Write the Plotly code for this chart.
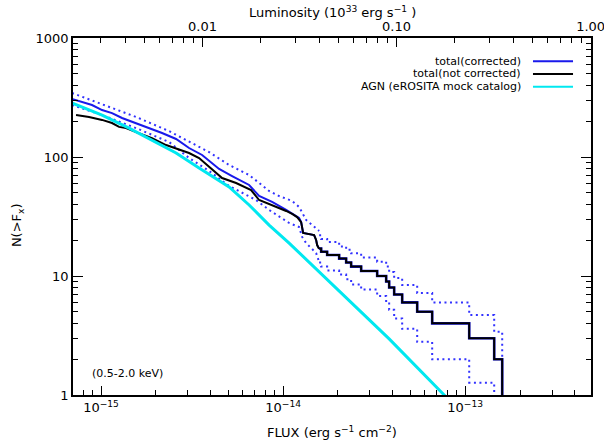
import plotly.graph_objects as go

# ---------------- data ----------------
# AGN model (eROSITA mock catalog), smooth curve
agn_flux = [6.93e-16, 1.013e-15, 1.425e-15, 1.906e-15, 2.583e-15, 3.455e-15, 5.05e-15,
            6.505e-15, 8.377e-15, 1.079e-14, 2.031e-14, 3.823e-14, 7.667e-14, 9.27e-14]
agn_n = [284, 225, 175, 139, 108, 80.8, 56, 39.5, 26.8, 18.9, 7.48, 2.96, 1.0, 0.75]

# total (not corrected), faint part
black_flux = [7.29e-16, 8.59e-16, 1.013e-15, 1.149e-15, 1.256e-15, 1.372e-15, 1.557e-15,
              1.906e-15, 2.276e-15, 2.683e-15, 3.044e-15, 3.455e-15, 3.921e-15, 4.622e-15,
              5.518e-15, 6.672e-15, 7.381e-15, 8.70e-15, 1.039e-14, 1.121e-14, 1.194e-14]
black_n = [225, 217, 205, 193, 179, 175, 162, 144, 126, 114.5, 108, 98, 82.4, 66.6,
           60.5, 52.8, 43.5, 39.5, 35.2, 33.2, 31.3]

# total (corrected), faint part
blue_flux = [6.93e-16, 7.86e-16, 8.92e-16, 1.013e-15, 1.149e-15, 1.304e-15, 1.557e-15,
             1.835e-15, 2.163e-15, 2.583e-15, 3.044e-15, 3.589e-15, 3.921e-15, 4.451e-15,
             5.245e-15, 6.505e-15, 7.381e-15, 8.70e-15, 1.039e-14, 1.224e-14]
blue_n = [307, 290, 273.5, 248, 234, 212.7, 193, 175, 159, 141.7, 119, 104, 92.5, 79.3,
          69.2, 58.2, 47, 41.9, 35.9, 30.7]

# bright part, shared by both totals
bright_flux = [1.256e-14, 1.288e-14, 1.48e-14, 1.518e-14, 1.538e-14, 1.577e-14]
bright_n = [28.4, 23.0, 22.1, 20.1, 18.2, 16.9]

# brightest sources: step function
tail_flux = [1.577e-14, 1.618e-14, 1.745e-14, 2.031e-14, 2.219e-14, 2.364e-14, 2.683e-14,
             3.285e-14, 3.681e-14, 3.823e-14, 4.073e-14, 4.507e-14, 5.449e-14, 6.587e-14,
             1.052e-13, 1.443e-13, 1.597e-13]
tail_n = [17, 16, 15, 14, 13, 12, 11, 10, 9, 8, 7, 6, 5, 4, 3, 2, 1]
tail_hi = [22.0, 20.5, 19.3, 17.7, 16.6, 15.5, 14.3, 13.2, 12.0, 10.8, 9.6, 8.4, 7.2, 6.0,
           4.7, 3.4, 2.0]
tail_lo = [13.0, 12.0, 11.1, 10.3, 9.4, 8.5, 7.7, 6.8, 6.0, 5.2, 4.4, 3.6, 2.8, 2.0, 1.27, 0.59]

# error envelope (dotted), faint part
hi_flux = [6.93e-16, 1.013e-15, 1.557e-15, 2.364e-15, 3.044e-15, 3.921e-15, 5.05e-15,
           6.505e-15, 8.377e-15, 9.507e-15, 1.121e-14, 1.224e-14, 1.338e-14, 1.443e-14, 1.577e-14]
hi_n = [345, 279, 217, 165, 134, 110, 85.7, 70.6, 51.8, 47, 42.7, 38, 29.6, 26.8, 23.9]
lo_flux = [6.93e-16, 1.013e-15, 1.557e-15, 2.364e-15, 3.044e-15, 3.921e-15, 5.05e-15,
           7.107e-15, 8.377e-15, 1.079e-14, 1.224e-14, 1.272e-14, 1.338e-14, 1.518e-14, 1.577e-14]
lo_n = [273.5, 225, 175, 133.7, 98.1, 76.3, 57.1, 43.5, 35.9, 27.9, 25.8, 21.3, 18.9, 15.6, 13.1]

# ticks
x_major = [1e-15, 1e-14, 1e-13]
x_major_text = ["10<sup>\u221215</sup>", "10<sup>\u221214</sup>", "10<sup>\u221213</sup>"]
top_major = [0.01, 0.1, 1.0]
top_major_text = ["0.01", "0.10", "1.00"]
y_major = [1, 10, 100, 1000]
y_major_text = ["1", "10", "100", "1000"]

legend_labels = ["total(corrected)", "total(not corrected)", "AGN (eROSITA mock catalog)"]

# ---------------- figure ----------------
BLUE = "rgb(25,25,235)"
DOT_BLUE = "rgb(50,50,255)"
CYAN = "rgb(0,232,240)"
DOT = "2px,3.5px"

fig = go.Figure()


def add_line(x, y, color, width, dash="solid", shape="linear"):
    fig.add_trace(go.Scatter(x=x, y=y, mode="lines",
                             line=dict(color=color, width=width, dash=dash, shape=shape),
                             showlegend=False, hoverinfo="skip"))


add_line(hi_flux, hi_n, DOT_BLUE, 2, DOT)
add_line(tail_flux, tail_hi, DOT_BLUE, 2, DOT, "hv")
add_line(lo_flux, lo_n, DOT_BLUE, 2, DOT)
add_line(tail_flux[:len(tail_lo)], tail_lo, DOT_BLUE, 2, DOT, "hv")
add_line(blue_flux + bright_flux, blue_n + bright_n, BLUE, 2)
add_line(tail_flux, tail_n, BLUE, 2.6, shape="hv")
add_line(black_flux + bright_flux, black_n + bright_n, "black", 2)
add_line(tail_flux, tail_n, "black", 2, shape="hv")
add_line(agn_flux, agn_n, CYAN, 3)

# invisible carrier so the top (luminosity) axis gets drawn
fig.add_trace(go.Scatter(x=top_major, y=[y_major[0]] * len(top_major), xaxis="x2", yaxis="y",
                         mode="markers", marker=dict(opacity=0, size=1),
                         showlegend=False, hoverinfo="skip"))


def minor_vals(decades, lo, hi):
    vals = []
    for d in decades:
        for k in range(2, 10):
            v = k * 10.0 ** d
            if lo <= v <= hi:
                vals.append(v)
    return vals


x_minor = minor_vals(range(-16, -12), 7e-16, 5e-13)
top_minor = minor_vals(range(-3, 0), 2e-3, 1.0)
y_minor = minor_vals(range(0, 3), 1, 1000)

common = dict(showgrid=False, zeroline=False, showline=True, linecolor="black", linewidth=1.5,
              ticks="inside", tickcolor="black", tickwidth=1, ticklabeloverflow="allow",
              automargin=False,
              tickfont=dict(size=13, color="black", family="DejaVu Sans"))

fig.update_layout(
    width=604, height=443,
    margin=dict(l=73, r=13, t=38, b=48, autoexpand=False),
    paper_bgcolor="white", plot_bgcolor="white",
    font=dict(family="DejaVu Sans", color="black"),
    xaxis=dict(type="log", range=[-15.154, -12.309], tickmode="array", tickvals=x_major,
               ticktext=x_major_text, ticklen=9,
               minor=dict(tickmode="array", tickvals=x_minor, ticks="inside", ticklen=5,
                          tickcolor="black", tickwidth=1), **common),
    xaxis2=dict(type="log", range=[-2.667, 0.002], overlaying="x", side="top", anchor="y",
                tickmode="array", tickvals=top_major, ticktext=top_major_text, ticklen=9,
                minor=dict(tickmode="array", tickvals=top_minor, ticks="inside", ticklen=5,
                           tickcolor="black", tickwidth=1), **common),
    yaxis=dict(type="log", range=[0, 3], tickmode="array", tickvals=y_major,
               ticktext=y_major_text, ticklen=10, mirror="ticks",
               minor=dict(tickmode="array", tickvals=y_minor, ticks="inside", ticklen=5,
                          tickcolor="black", tickwidth=1), **common),
)

annotations = [
    dict(text="FLUX (erg s<sup>\u22121</sup> cm<sup>\u22122</sup>)", x=0.5, y=-0.1036,
         xref="paper", yref="paper", xanchor="center", yanchor="middle", showarrow=False,
         font=dict(size=13)),
    dict(text="Luminosity (10<sup>33</sup> erg s<sup>\u22121</sup> )", x=0.5, y=1.0728,
         xref="paper", yref="paper", xanchor="center", yanchor="middle", showarrow=False,
         font=dict(size=13)),
    dict(text="N(>F<sub>x</sub>)", x=-0.108, y=0.476, xref="paper", yref="paper",
         xanchor="center", yanchor="middle", textangle=-90, showarrow=False,
         font=dict(size=13)),
    dict(text="(0.5-2.0 keV)", x=0.033, y=0.059, xref="paper", yref="paper",
         xanchor="left", yanchor="middle", showarrow=False, font=dict(size=11)),
]
legend_colors = [BLUE, "black", CYAN]
legend_y = [0.9347, 0.8992, 0.8636]
shapes = []
for lab, col, yy in zip(legend_labels, legend_colors, legend_y):
    annotations.append(dict(text=lab, x=0.8687, y=yy, xref="paper", yref="paper",
                            xanchor="right", yanchor="middle", showarrow=False,
                            font=dict(size=11)))
    shapes.append(dict(type="line", xref="paper", yref="paper", x0=0.888, x1=0.9653,
                       y0=yy, y1=yy, line=dict(color=col, width=2)))

fig.update_layout(annotations=annotations, shapes=shapes)

fig.write_html("out.html")
